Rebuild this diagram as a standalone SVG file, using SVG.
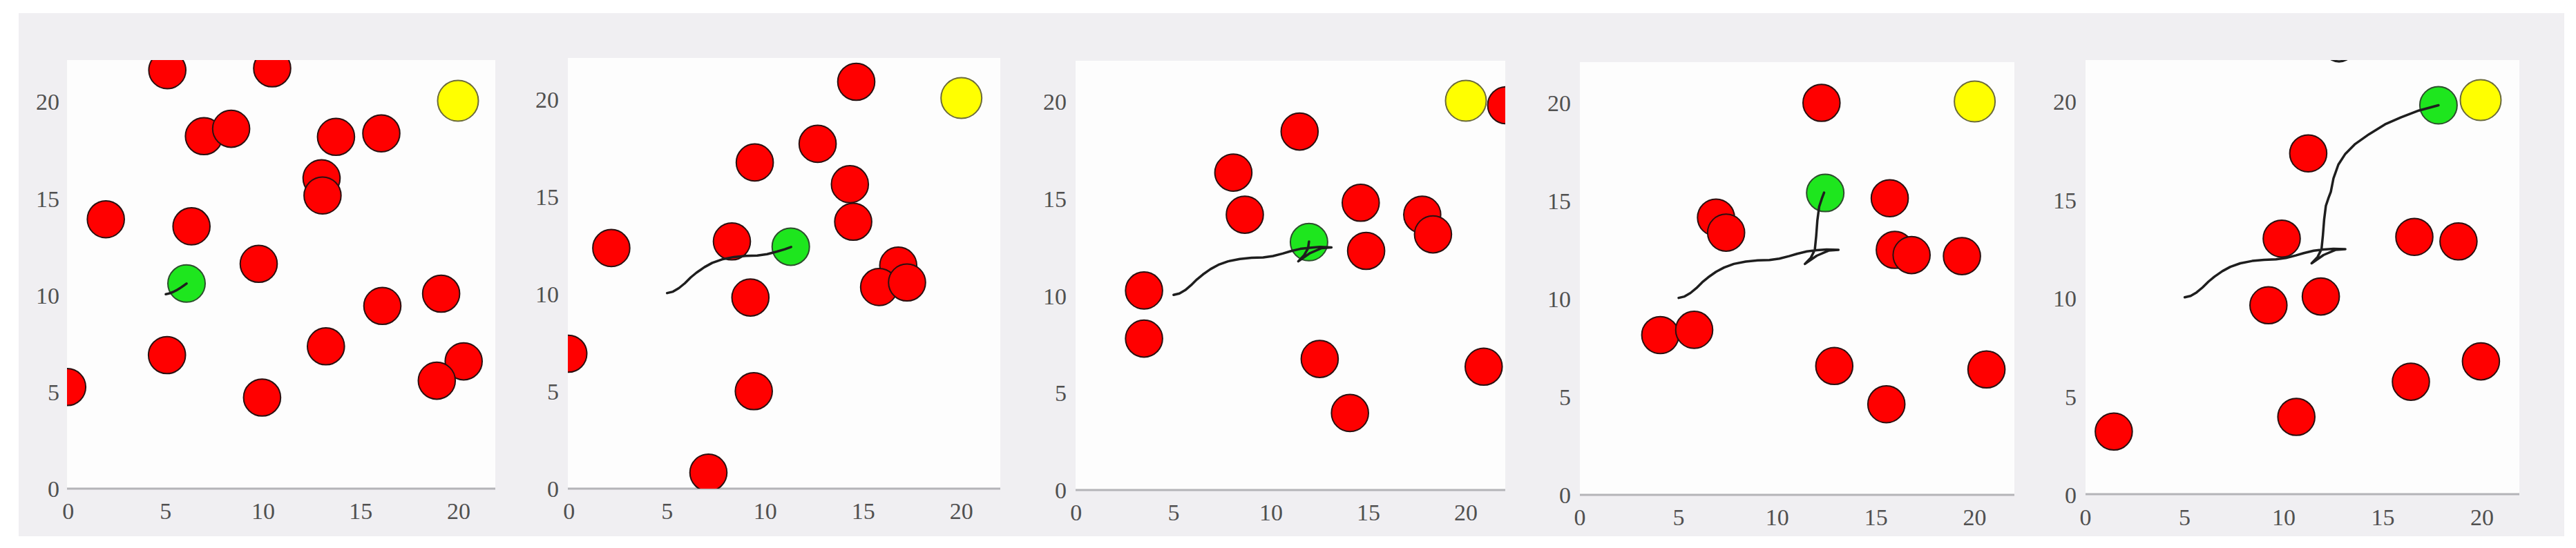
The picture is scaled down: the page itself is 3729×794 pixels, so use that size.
<svg xmlns="http://www.w3.org/2000/svg" width="3729" height="794" viewBox="0 0 3729 794">
<style>
.bg{fill:#f0eff2}
.plot{fill:#fdfdfd}
.axis{stroke:#b4b4b8;stroke-width:3}
.lbl{font-family:"Liberation Serif",serif;font-size:34px;fill:#505050}
.xl{text-anchor:middle}
.yl{text-anchor:end}
.red{fill:#ff0000;stroke:#2a1010;stroke-width:2}
.grn{fill:#1ee61e;stroke:#2d4d2d;stroke-width:2}
.yel{fill:#ffff00;stroke:#6b6b3b;stroke-width:2}
.traj{fill:none;stroke:#1e1e1e;stroke-width:3.5;stroke-linecap:round;stroke-linejoin:round}
</style>
<defs>
<clipPath id="c1"><rect x="97" y="87" width="620" height="621"/></clipPath>
<clipPath id="c2"><rect x="822" y="84" width="626" height="624"/></clipPath>
<clipPath id="c3"><rect x="1557" y="88" width="622" height="622"/></clipPath>
<clipPath id="c4"><rect x="2287" y="90" width="629" height="627"/></clipPath>
<clipPath id="c5"><rect x="3019" y="87" width="628" height="630"/></clipPath>
</defs>
<rect class="bg" x="27" y="19" width="3685" height="758"/>

<g id="panel1">
<rect class="plot" x="97" y="87" width="620" height="621"/>
<line class="axis" x1="97" y1="708" x2="717" y2="708"/>
<g class="lbl xl"><text x="98.7" y="752">0</text><text x="239.8" y="752">5</text><text x="381.1" y="752">10</text><text x="522.2" y="752">15</text><text x="663.9" y="752">20</text></g>
<g class="lbl yl"><text x="86" y="720">0</text><text x="86" y="579.9">5</text><text x="86" y="439.7">10</text><text x="86" y="299.6">15</text><text x="86" y="159.4">20</text></g>
<g clip-path="url(#c1)">
<g id="p1-r1"><circle class="red" cx="242.2" cy="101.7" r="26.8"/></g>
<g id="p1-r2"><circle class="red" cx="394" cy="99" r="26.8"/></g>
<g id="p1-r3"><circle class="red" cx="295.2" cy="197.3" r="26.8"/></g>
<g id="p1-r4"><circle class="red" cx="334.6" cy="186.6" r="26.8"/></g>
<g id="p1-r5"><circle class="red" cx="486.4" cy="198.3" r="26.8"/></g>
<g id="p1-r6"><circle class="red" cx="552" cy="193.2" r="26.8"/></g>
<g id="p1-r7"><circle class="red" cx="465.5" cy="258.3" r="26.8"/></g>
<g id="p1-r8"><circle class="red" cx="466.9" cy="283.2" r="26.8"/></g>
<g id="p1-r9"><circle class="red" cx="153.2" cy="317.7" r="26.8"/></g>
<g id="p1-r10"><circle class="red" cx="277.2" cy="327.9" r="26.8"/></g>
<g id="p1-r11"><circle class="red" cx="374.5" cy="382.3" r="26.8"/></g>
<g id="p1-r12"><circle class="red" cx="638.6" cy="425.5" r="26.8"/></g>
<g id="p1-r13"><circle class="red" cx="553.5" cy="443.3" r="26.8"/></g>
<g id="p1-r14"><circle class="red" cx="241.7" cy="514.5" r="26.8"/></g>
<g id="p1-r15"><circle class="red" cx="471.8" cy="501.8" r="26.8"/></g>
<g id="p1-r16"><circle class="red" cx="671.2" cy="523.6" r="26.8"/></g>
<g id="p1-r17"><circle class="red" cx="632.3" cy="551.6" r="26.8"/></g>
<g id="p1-r18"><circle class="red" cx="97.3" cy="560.8" r="26.8"/></g>
<g id="p1-r19"><circle class="red" cx="379.4" cy="576" r="26.8"/></g>
<g id="p1-goal"><circle class="yel" cx="663" cy="146" r="29.5"/></g>
<g id="p1-agent"><circle class="grn" cx="270" cy="410.8" r="27"/></g>
</g>
</g>

<g id="panel2">
<rect class="plot" x="822" y="84" width="626" height="624"/>
<line class="axis" x1="822" y1="708" x2="1448" y2="708"/>
<g class="lbl xl"><text x="823.7" y="752">0</text><text x="965.7" y="752">5</text><text x="1107.7" y="752">10</text><text x="1249.7" y="752">15</text><text x="1391.7" y="752">20</text></g>
<g class="lbl yl"><text x="809" y="720">0</text><text x="809" y="579">5</text><text x="809" y="438">10</text><text x="809" y="297">15</text><text x="809" y="156">20</text></g>
<g clip-path="url(#c2)">
<g id="p2-r1"><circle class="red" cx="1239.5" cy="118.5" r="26.8"/></g>
<g id="p2-r2"><circle class="red" cx="1183.6" cy="208.4" r="26.8"/></g>
<g id="p2-r3"><circle class="red" cx="1092.6" cy="235.4" r="26.8"/></g>
<g id="p2-r4"><circle class="red" cx="1230.3" cy="266.9" r="26.8"/></g>
<g id="p2-r5"><circle class="red" cx="1235.1" cy="321.3" r="26.8"/></g>
<g id="p2-r6"><circle class="red" cx="884.9" cy="359.4" r="26.8"/></g>
<g id="p2-r7"><circle class="red" cx="1059.5" cy="349.8" r="26.8"/></g>
<g id="p2-r8"><circle class="red" cx="1300.3" cy="384.8" r="26.8"/></g>
<g id="p2-r9"><circle class="red" cx="1272.6" cy="415.9" r="26.8"/></g>
<g id="p2-r10"><circle class="red" cx="1313" cy="409.3" r="26.8"/></g>
<g id="p2-r11"><circle class="red" cx="1086.3" cy="431.1" r="26.8"/></g>
<g id="p2-r12"><circle class="red" cx="822.7" cy="512.5" r="26.8"/></g>
<g id="p2-r13"><circle class="red" cx="1091.2" cy="566.8" r="26.8"/></g>
<g id="p2-r14"><circle class="red" cx="1025.5" cy="684.8" r="26.8"/></g>
<g id="p2-goal"><circle class="yel" cx="1391.7" cy="142" r="29.5"/></g>
<g id="p2-agent"><circle class="grn" cx="1144.7" cy="357.4" r="27"/></g>
</g>
</g>

<g id="panel3">
<rect class="plot" x="1557" y="88" width="622" height="622"/>
<line class="axis" x1="1557" y1="710" x2="2179" y2="710"/>
<g class="lbl xl"><text x="1557.8" y="754">0</text><text x="1698.9" y="754">5</text><text x="1839.9" y="754">10</text><text x="1981" y="754">15</text><text x="2122" y="754">20</text></g>
<g class="lbl yl"><text x="1544" y="722">0</text><text x="1544" y="581.4">5</text><text x="1544" y="440.7">10</text><text x="1544" y="300.1">15</text><text x="1544" y="159.4">20</text></g>
<g clip-path="url(#c3)">
<g id="p3-r1"><circle class="red" cx="2180.4" cy="152.5" r="26.8"/></g>
<g id="p3-r2"><circle class="red" cx="1881.3" cy="190.6" r="26.8"/></g>
<g id="p3-r3"><circle class="red" cx="1785.4" cy="250.1" r="26.8"/></g>
<g id="p3-r4"><circle class="red" cx="1802" cy="311.1" r="26.8"/></g>
<g id="p3-r5"><circle class="red" cx="1969.8" cy="293.8" r="26.8"/></g>
<g id="p3-r6"><circle class="red" cx="2058.8" cy="311.1" r="26.8"/></g>
<g id="p3-r7"><circle class="red" cx="2074.4" cy="339.6" r="26.8"/></g>
<g id="p3-r8"><circle class="red" cx="1977.6" cy="363.5" r="26.8"/></g>
<g id="p3-r9"><circle class="red" cx="1656.1" cy="420.9" r="26.8"/></g>
<g id="p3-r10"><circle class="red" cx="1656.1" cy="490.6" r="26.8"/></g>
<g id="p3-r11"><circle class="red" cx="1910.4" cy="520.1" r="26.8"/></g>
<g id="p3-r12"><circle class="red" cx="2147.8" cy="531.3" r="26.8"/></g>
<g id="p3-r13"><circle class="red" cx="1954.2" cy="598.4" r="26.8"/></g>
<g id="p3-goal"><circle class="yel" cx="2122" cy="146" r="29.5"/></g>
<g id="p3-agent"><circle class="grn" cx="1894.9" cy="350.8" r="27"/></g>
</g>
</g>

<g id="panel4">
<rect class="plot" x="2287" y="90" width="629" height="627"/>
<line class="axis" x1="2287" y1="717" x2="2916" y2="717"/>
<g class="lbl xl"><text x="2287.1" y="761">0</text><text x="2430" y="761">5</text><text x="2572.8" y="761">10</text><text x="2715.7" y="761">15</text><text x="2858.5" y="761">20</text></g>
<g class="lbl yl"><text x="2274" y="729">0</text><text x="2274" y="587">5</text><text x="2274" y="445">10</text><text x="2274" y="303">15</text><text x="2274" y="161">20</text></g>
<g clip-path="url(#c4)">
<g id="p4-r1"><circle class="red" cx="2636.8" cy="149" r="26.8"/></g>
<g id="p4-r2"><circle class="red" cx="2735.6" cy="287.2" r="26.8"/></g>
<g id="p4-r3"><circle class="red" cx="2484.1" cy="315.2" r="26.8"/></g>
<g id="p4-r4"><circle class="red" cx="2498.7" cy="337.1" r="26.8"/></g>
<g id="p4-r5"><circle class="red" cx="2742.9" cy="362" r="26.8"/></g>
<g id="p4-r6"><circle class="red" cx="2767.2" cy="369.6" r="26.8"/></g>
<g id="p4-r7"><circle class="red" cx="2840.1" cy="371.1" r="26.8"/></g>
<g id="p4-r8"><circle class="red" cx="2403.4" cy="485.5" r="26.8"/></g>
<g id="p4-r9"><circle class="red" cx="2452.5" cy="477.9" r="26.8"/></g>
<g id="p4-r10"><circle class="red" cx="2655.3" cy="530.3" r="26.8"/></g>
<g id="p4-r11"><circle class="red" cx="2730.7" cy="585.7" r="26.8"/></g>
<g id="p4-r12"><circle class="red" cx="2875.6" cy="535.3" r="26.8"/></g>
<g id="p4-goal"><circle class="yel" cx="2858.6" cy="147" r="29.5"/></g>
<g id="p4-agent"><circle class="grn" cx="2642.2" cy="279.6" r="27"/></g>
</g>
</g>

<g id="panel5">
<rect class="plot" x="3019" y="87" width="628" height="630"/>
<line class="axis" x1="3019" y1="716" x2="3647" y2="716"/>
<g class="lbl xl"><text x="3019.1" y="761">0</text><text x="3162.6" y="761">5</text><text x="3306.1" y="761">10</text><text x="3449.6" y="761">15</text><text x="3593.1" y="761">20</text></g>
<g class="lbl yl"><text x="3006" y="729">0</text><text x="3006" y="586.6">5</text><text x="3006" y="444.2">10</text><text x="3006" y="301.8">15</text><text x="3006" y="159.4">20</text></g>
<g clip-path="url(#c5)">
<g id="p5-r1"><circle class="red" cx="3341.4" cy="222.2" r="26.8"/></g>
<g id="p5-r2"><circle class="red" cx="3303" cy="345.7" r="26.8"/></g>
<g id="p5-r3"><circle class="red" cx="3495" cy="343.2" r="26.8"/></g>
<g id="p5-r4"><circle class="red" cx="3558.9" cy="349.8" r="26.8"/></g>
<g id="p5-r5"><circle class="red" cx="3359.6" cy="429.6" r="26.8"/></g>
<g id="p5-r6"><circle class="red" cx="3283.8" cy="442.3" r="26.8"/></g>
<g id="p5-r7"><circle class="red" cx="3591.4" cy="523.6" r="26.8"/></g>
<g id="p5-r8"><circle class="red" cx="3490" cy="553.1" r="26.8"/></g>
<g id="p5-r9"><circle class="red" cx="3324.2" cy="604" r="26.8"/></g>
<g id="p5-r10"><circle class="red" cx="3059.9" cy="625.3" r="26.8"/></g>
<g id="p5-goal"><circle class="yel" cx="3591" cy="145" r="29.5"/></g>
<g id="p5-agent"><circle class="grn" cx="3529.9" cy="152.5" r="27"/></g>
</g>
</g>

<g id="connectors">
<path class="traj" clip-path="url(#c1)" d="M240,426.3 C248,425.5 258,420 270,410.9"/>
<path class="traj" clip-path="url(#c2)" d="M965.7,424.6 L974.2,422.6 L982.7,417.5 L991.3,410.5 L999.8,402 L1008.3,395 L1019.7,387.1 L1031,380.9 L1045.2,375.8 L1062.3,372.4 L1079.3,370.7 L1096.3,370.2 L1110.5,368.2 L1124.7,364.5 L1136.1,361.1 L1145.2,357.8"/>
<path class="traj" clip-path="url(#c3)" d="M1698.9,427.3 L1707.3,425.3 L1715.8,420.3 L1724.2,413.2 L1732.7,404.8 L1741.2,397.8 L1752.4,389.9 L1763.7,383.7 L1777.8,378.6 L1794.8,375.3 L1811.7,373.6 L1828.6,373 L1842.7,371 L1856.8,367.4 L1868.1,364 L1882.2,360.6 L1896.3,358.9 L1910.4,357.8 L1927.4,358.4 L1913.2,359.5 L1896.3,366.8 L1879.4,378.6 L1887.9,369.6 L1893.5,359.8 L1894.9,349.9"/>
<path class="traj" clip-path="url(#c4)" d="M2430,431.6 L2438.5,429.6 L2447.1,424.5 L2455.7,417.4 L2464.2,408.9 L2472.8,401.8 L2484.2,393.8 L2495.7,387.6 L2509.9,382.4 L2527.1,379 L2544.2,377.3 L2561.4,376.8 L2575.7,374.8 L2589.9,371.1 L2601.4,367.7 L2615.7,364.3 L2629.9,362.6 L2644.2,361.4 L2661.4,362 L2647.1,363.1 L2629.9,370.5 L2612.8,382.4 L2621.4,373.4 L2627.1,362 L2629.1,342.1 L2630.8,319.4 L2633.4,299.5 L2637.1,288.2 L2640.5,279.1"/>
<path class="traj" clip-path="url(#c5)" d="M3162.6,430.8 L3171.2,428.8 L3179.8,423.7 L3188.4,416.5 L3197,408 L3205.6,400.9 L3217.1,392.9 L3228.6,386.6 L3243,381.5 L3260.2,378.1 L3277.4,376.4 L3294.6,375.8 L3309,373.8 L3323.3,370.1 L3334.8,366.7 L3349.2,363.3 L3363.5,361.6 L3377.9,360.4 L3395.1,361 L3380.7,362.1 L3363.5,369.5 L3346.3,381.5 L3354.9,372.4 L3360.6,361 L3362.6,341.1 L3364.4,318.3 L3366.9,298.3 L3370.7,286.9 L3374.1,277.8 L3377.9,258.5 L3385,238.5 L3395.1,222.9 L3409.4,208.6 L3429.5,194.4 L3452.5,180.2 L3475.4,170.2 L3501.3,160.2 L3529.9,152.5"/>
<path class="traj" clip-path="url(#c5)" d="M3375,86 Q3386,92 3397,86"/>
</g>
</svg>
